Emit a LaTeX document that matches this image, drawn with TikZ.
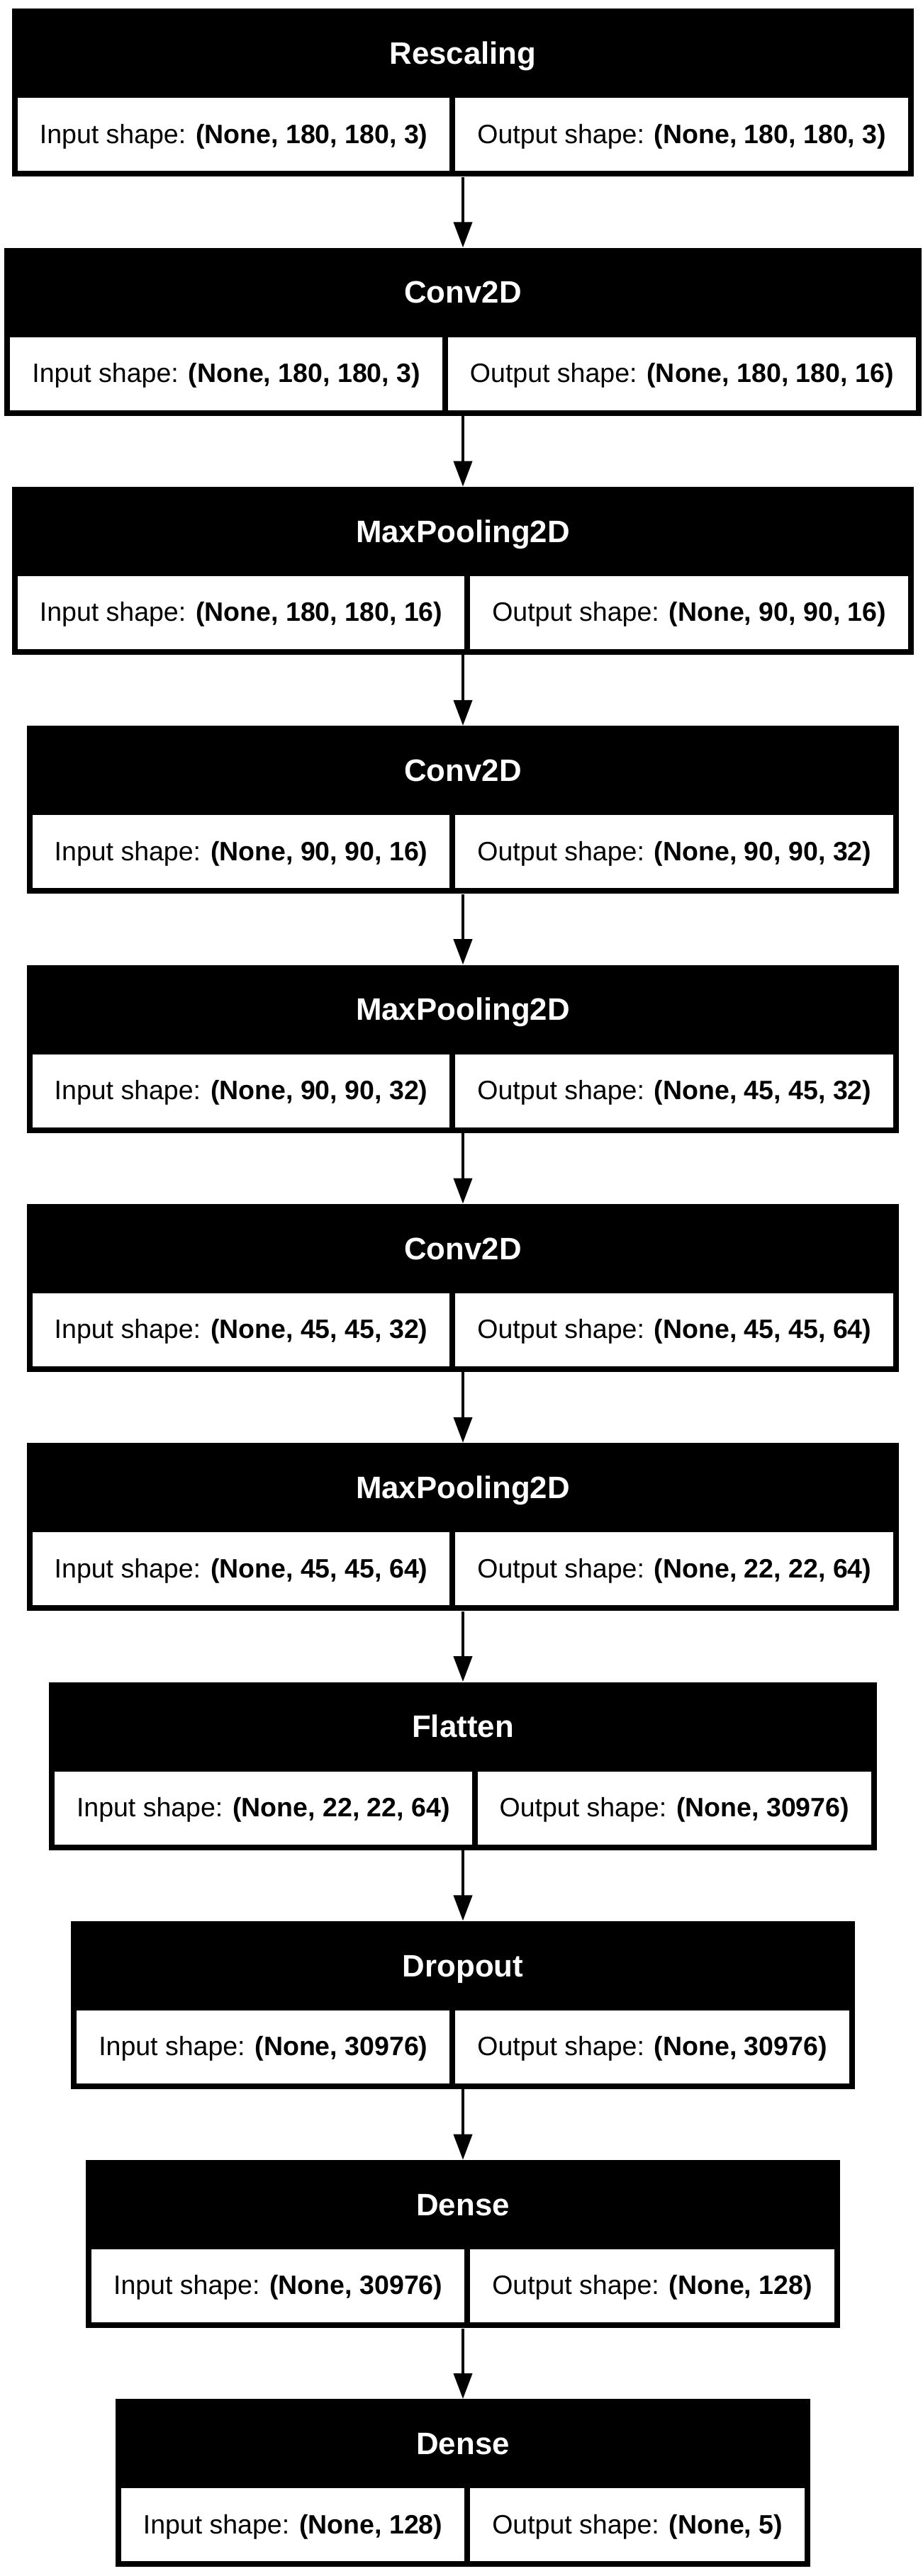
\documentclass[tikz,border=0pt]{standalone}
\usepackage{fontspec}
\setmainfont{Liberation Sans}
\usetikzlibrary{arrows.meta}
\newcommand\lycellfont{\fontsize{18.75pt}{22pt}\selectfont}
\newcommand\lytitlefont{\fontsize{21.9pt}{26pt}\selectfont\bfseries}
\newcommand\lycell[1]{{\fboxsep=0pt\colorbox{white}{\hspace{15.5pt}\rule[-19.6pt]{0pt}{51.5pt}#1\hspace{15.5pt}}}}
\tikzset{
  blackbox/.style={rectangle, fill=black, draw=none, inner sep=4pt, anchor=north,
    text height=90.9pt, text depth=19.6pt, font=\lycellfont},
  titletext/.style={inner sep=0pt, anchor=base, text=white, font=\lytitlefont},
  arr/.style={line width=2pt, -{Triangle[length=18pt,width=13pt]}}
}
\newcommand\lylayer[4]{%
  \node[blackbox] (L#1) at (326.5pt,{-6pt-168.65pt*#1})
    {\lycell{Input shape: \textbf{#3}}\hspace{4pt}\lycell{Output shape: \textbf{#4}}};
  \node[titletext] (T#1) at ([yshift=-39.3pt]L#1.north) {#2};
}
\begin{document}
\begin{tikzpicture}
\useasboundingbox (0,0) rectangle (650.5pt,-1817.5pt);
\lylayer{0}{Rescaling}{(None, 180, 180, 3)}{(None, 180, 180, 3)}
\lylayer{1}{Conv2D}{(None, 180, 180, 3)}{(None, 180, 180, 16)}
\lylayer{2}{MaxPooling2D}{(None, 180, 180, 16)}{(None, 90, 90, 16)}
\lylayer{3}{Conv2D}{(None, 90, 90, 16)}{(None, 90, 90, 32)}
\lylayer{4}{MaxPooling2D}{(None, 90, 90, 32)}{(None, 45, 45, 32)}
\lylayer{5}{Conv2D}{(None, 45, 45, 32)}{(None, 45, 45, 64)}
\lylayer{6}{MaxPooling2D}{(None, 45, 45, 64)}{(None, 22, 22, 64)}
\lylayer{7}{Flatten}{(None, 22, 22, 64)}{(None, 30976)}
\lylayer{8}{Dropout}{(None, 30976)}{(None, 30976)}
\lylayer{9}{Dense}{(None, 30976)}{(None, 128)}
\lylayer{10}{Dense}{(None, 128)}{(None, 5)}
\foreach \i [evaluate=\i as \j using int(\i+1)] in {0,...,9}
  \draw[arr] (L\i.south) -- (L\j.north);
\end{tikzpicture}
\end{document}
